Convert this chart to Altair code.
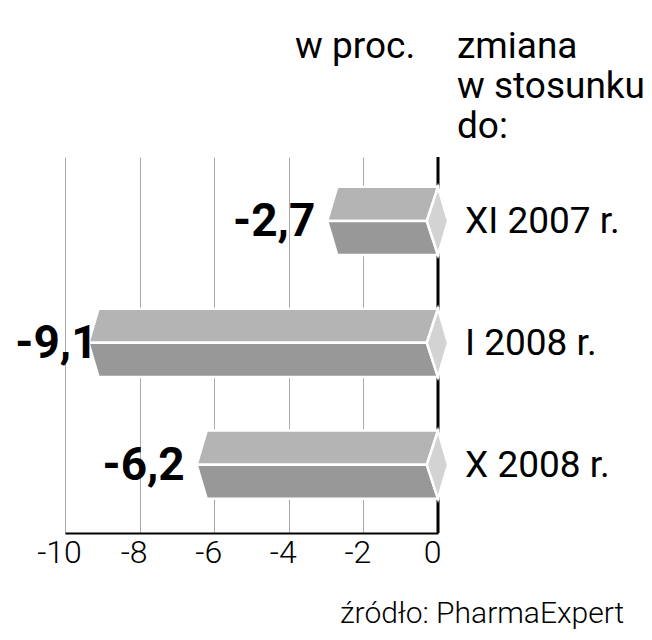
import altair as alt
import pandas as pd

# ---- data ----
categories = ["XI 2007 r.", "I 2008 r.", "X 2008 r."]
values = [-2.7, -9.1, -6.2]
x_ticks = [-10, -8, -6, -4, -2, 0]
header_left = "w proc."
header_right = ["zmiana", "w stosunku", "do:"]
source_text = "źródło: PharmaExpert"

# shape constants (row units / value units)
HALF = 0.28
BEVEL = 0.27
TIP_IN = 0.3
TIP_OUT = 0.27

shape_rows = []
label_rows = []
for i, (cat, v) in enumerate(zip(categories, values)):
    shape_rows += [
        {"cat": cat, "part": "top", "row": i - HALF, "x": v, "x2": 0},
        {"cat": cat, "part": "top", "row": i, "x": v - BEVEL, "x2": -TIP_IN},
        {"cat": cat, "part": "bottom", "row": i, "x": v - BEVEL, "x2": -TIP_IN},
        {"cat": cat, "part": "bottom", "row": i + HALF, "x": v, "x2": 0},
        {"cat": cat, "part": "tip", "row": i - HALF, "x": 0, "x2": 0},
        {"cat": cat, "part": "tip", "row": i, "x": -TIP_IN, "x2": TIP_OUT},
        {"cat": cat, "part": "tip", "row": i + HALF, "x": 0, "x2": 0},
    ]
    label_rows.append({"cat": cat, "row": i, "value": v,
                       "label": f"{v:.1f}".replace(".", ","), "zero": 0})

shapes = pd.DataFrame(shape_rows)
labels = pd.DataFrame(label_rows)

FONT = "Roboto"

xscale = alt.Scale(domain=[-10, 0], nice=False, zero=False)
yscale = alt.Scale(domain=[-0.525, 2.56], reverse=True, nice=False, zero=False)

base_axis = alt.Axis(
    values=x_ticks, grid=True, gridColor="#a8a8a8", gridWidth=1,
    ticks=False, domainColor="black", domainWidth=2,
    labelFont=FONT, labelFontSize=32, labelFontWeight=300, labelColor="black",
    labelPadding=4, labelOffset=-6, labelFlush=False,
    labelExpr="'' + datum.value", title=None,
)

grid_layer = alt.Chart(labels).mark_point(opacity=0).encode(
    x=alt.X("value:Q", scale=xscale, axis=base_axis),
    y=alt.Y("row:Q", scale=yscale, axis=None),
)

zero_rule = alt.Chart(pd.DataFrame({"z": [0]})).mark_rule(
    color="black", strokeWidth=3
).encode(x=alt.X("z:Q", scale=xscale))

bars = alt.Chart(shapes).mark_area(
    orient="horizontal", stroke="white", strokeWidth=2.5, interpolate="linear"
).encode(
    y=alt.Y("row:Q", scale=yscale, axis=None),
    x=alt.X("x:Q", scale=xscale),
    x2="x2:Q",
    color=alt.Color("part:N", scale=alt.Scale(domain=["top", "bottom", "tip"],
                                               range=["#b4b4b4", "#989898", "#d3d3d3"]),
                    legend=None),
    detail="cat:N",
)

val_near = alt.Chart(labels).transform_filter("datum.value > -9").mark_text(
    font=FONT, fontSize=46, fontWeight="bold", align="right", baseline="middle",
    dx=-22, dy=1, color="black"
).encode(x=alt.X("value:Q", scale=xscale), y=alt.Y("row:Q", scale=yscale), text="label:N")

val_far = alt.Chart(labels).transform_filter("datum.value <= -9").mark_text(
    font=FONT, fontSize=46, fontWeight="bold", align="right", baseline="middle",
    dx=-1, dy=1, color="black"
).encode(x=alt.X("value:Q", scale=xscale), y=alt.Y("row:Q", scale=yscale), text="label:N")

cat_text = alt.Chart(labels).mark_text(
    font=FONT, fontSize=37, align="left", baseline="middle", dx=27, dy=1, color="black"
).encode(x=alt.X("zero:Q", scale=xscale), y=alt.Y("row:Q", scale=yscale), text="cat:N")

hdr_left = alt.Chart(pd.DataFrame({"t": [header_left]})).mark_text(
    font=FONT, fontSize=37, align="left", baseline="alphabetic", color="black"
).encode(x=alt.value(230), y=alt.value(-99), text="t:N")

hdr_right = alt.Chart(pd.DataFrame({"t": [0]})).mark_text(
    font=FONT, fontSize=37, align="left", baseline="alphabetic", color="black",
    lineHeight=40
).encode(x=alt.value(392), y=alt.value(-99), text=alt.value(header_right))

src = alt.Chart(pd.DataFrame({"t": [source_text]})).mark_text(
    font=FONT, fontSize=30, fontWeight=300, align="left", baseline="alphabetic",
    color="black"
).encode(x=alt.value(275), y=alt.value(466), text="t:N")

chart = alt.layer(
    grid_layer, zero_rule, bars, val_near, val_far, cat_text, hdr_left, hdr_right, src
).properties(
    width=373, height=376,
    autosize=alt.AutoSizeParams(type="none"),
    padding={"left": 57, "top": 149, "right": 206, "bottom": 99},
    background="white",
).configure_view(stroke=None)

chart.save("out.html", embed_options={"renderer": "svg", "actions": False})
